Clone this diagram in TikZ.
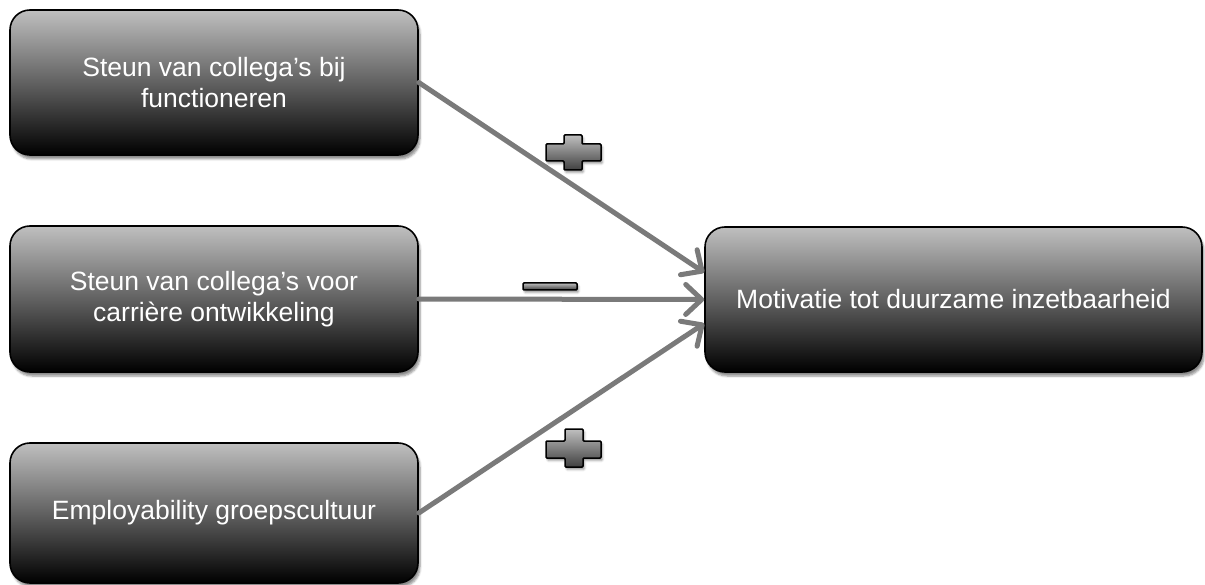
\documentclass[tikz,border=0pt]{standalone}
\usepackage{fontspec}
\setmainfont{Liberation Sans}
\usetikzlibrary{arrows.meta,shadows.blur}
\tikzset{
  box/.style={draw=black, line width=1.6pt, rounded corners=20pt,
    top color=black!25, bottom color=black, middle color=black!62,
    text=white, font=\fontsize{26.5}{31}\selectfont, align=center,
    inner sep=0pt,
    blur shadow={shadow xshift=2pt, shadow yshift=-4pt, shadow blur steps=6, shadow opacity=45}},
  link/.style={draw=black!52, line width=5pt, line cap=round,
    -{Straight Barb[length=16pt, width=30pt, line cap=round, round]}},
  sign/.style={draw=black, line width=1.5pt, rounded corners=1pt,
    top color=black!25, bottom color=black!75,
    blur shadow={shadow xshift=1.5pt, shadow yshift=-2.5pt, shadow blur steps=4, shadow opacity=40}}
}
\begin{document}
\begin{tikzpicture}[x=1pt, y=-1pt]
  \useasboundingbox (0,0) rectangle (1205,585);
  \node[box, minimum width=408pt, minimum height=145pt] (a) at (214,82.5)
    {Steun van collega’s bij\\functioneren};
  \node[box, minimum width=408pt, minimum height=146pt] (b) at (214,299)
    {Steun van collega’s voor\\carrière ontwikkeling};
  \node[box, minimum width=408pt, minimum height=140pt] (c) at (214,513)
    {Employability groepscultuur};
  \node[box, minimum width=497pt, minimum height=145pt] (m) at (953.5,299.5)
    {Motivatie tot duurzame inzetbaarheid};

  \draw[link] (a.east) -- ([yshift=27pt]m.west);
  \draw[link] (b.east) -- (m.west);
  \draw[link] (c.east) -- ([yshift=-24pt]m.west);

  % plus signs and minus sign
  \path[sign] (546,144) -- (564,144) -- (564,135) -- (582,135) -- (582,144) -- (601,144)
    -- (601,161) -- (582,161) -- (582,170) -- (564,170) -- (564,161) -- (546,161) -- cycle;
  \path[sign] (546,441) -- (565,441) -- (565,429) -- (583,429) -- (583,441) -- (601,441)
    -- (601,458) -- (583,458) -- (583,467) -- (565,467) -- (565,458) -- (546,458) -- cycle;
  \path[sign] (523,283) rectangle (577,290);
\end{tikzpicture}
\end{document}
